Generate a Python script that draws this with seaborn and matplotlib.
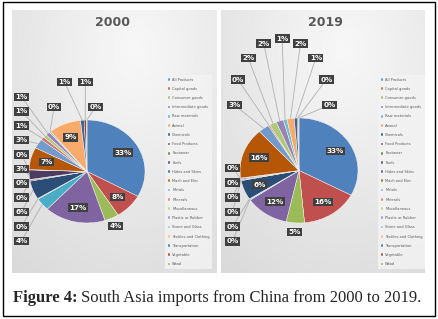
import numpy as np
import matplotlib
matplotlib.use('agg')
import seaborn as sns
import matplotlib.pyplot as plt
from matplotlib.patches import Rectangle

categories = ["All Products", "Capital goods", "Consumer goods", "Intermediate goods",
              "Raw materials", "Animal", "Chemicals", "Food Products", "Footwear",
              "Fuels", "Hides and Skins", "Mach and Elec", "Metals", "Minerals",
              "Miscellaneous", "Plastic or Rubber", "Stone and Glass",
              "Textiles and Clothing", "Transportation", "Vegetable", "Wood"]

# shares in percent
share_2000 = [33.0, 8.0, 4.0, 17.0, 4.0, 0.2, 5.8, 0.3, 0.2, 3.0, 0.1,
              7.0, 3.0, 1.0, 1.0, 1.2, 0.4, 9.0, 1.0, 0.6, 0.2]
share_2019 = [32.8, 15.7, 5.0, 12.0, 0.3, 0.1, 6.0, 0.2, 0.2, 0.3, 0.1,
              15.6, 3.0, 0.4, 2.0, 2.0, 1.0, 2.0, 0.8, 0.3, 0.2]

years = ["2000", "2019"]

office = ["#4F81BD", "#C0504D", "#9BBB59", "#8064A2", "#4BACC6", "#F79646",
          "#2C4D75", "#772C2A", "#5F7530", "#4D3B62", "#276A7C", "#B65708",
          "#729ACA", "#CD7371", "#AFC97A", "#9983B5", "#6FBDD1", "#F9AB6B",
          "#3A679C", "#9F3B38", "#7E9C40"]

W, H = 439, 319


def label_layout(values):
    """excel-ish 'best fit' placement, in pie-radius units"""
    vals = np.array(values, dtype=float)
    pct = vals / vals.sum() * 100
    start = np.concatenate([[0], np.cumsum(pct)[:-1]])
    theta = np.deg2rad(90 - (start + pct / 2) * 3.6)
    out = [None] * len(vals)
    top, left = [], []
    for i, t in enumerate(theta):
        c, s = np.cos(t), np.sin(t)
        th = np.rad2deg(t) % 360
        if pct[i] >= 6:
            out[i] = (0.72 * c, 0.72 * s, None)
        elif pct[i] >= 3 and c > -0.3 and s < 0.5:
            out[i] = (1.17 * c, 1.17 * s, None)
        elif 20 <= th < 130:
            top.append((th, i))
        elif 130 <= th <= 270:
            left.append((th, i))
        else:
            out[i] = (1.3 * c, 1.3 * s, (c, s))

    # arch of labels above the pie
    top.sort()
    n = len(top)
    if n:
        xc = np.mean([1.1 * np.cos(theta[i]) for _, i in top])
        a = max(0.36, 0.09 * n)
        b = max(0.35, 0.14 * n)
        phis = np.deg2rad(np.linspace(0, 180, n)) if n > 1 else [np.pi / 2]
        for (th, i), p in zip(top, phis):
            out[i] = (xc + a * np.cos(p), 1.25 + b * np.sin(p),
                      (np.cos(theta[i]), np.sin(theta[i])))

    # column of labels on the left
    left.sort()
    ys = [1.1 * np.sin(theta[i]) for _, i in left]
    gap = 0.28
    for k in range(1, len(ys)):
        ys[k] = min(ys[k], ys[k - 1] - gap)
    if ys and ys[-1] < -1.35:
        ys[-1] = -1.35
        for k in range(len(ys) - 2, -1, -1):
            ys[k] = max(ys[k], ys[k + 1] + gap)
    for (th, i), y in zip(left, ys):
        out[i] = (-1.13, y, (np.cos(theta[i]), np.sin(theta[i])))
    return pct, out


def draw_panel(fig, year, values, box, center, radius, legend_at, title_at):
    x0, y0, x1, y1 = box
    rect = [x0 / W, 1 - y1 / H, (x1 - x0) / W, (y1 - y0) / H]

    bg = fig.add_axes(rect)
    yy, xx = np.mgrid[0:1:200j, 0:1:200j]
    d = np.hypot(xx - 0.6, (yy - 0.15) * 0.9)
    g = 0.97 - 0.12 * d / d.max()
    bg.imshow(g, cmap="gray", vmin=0, vmax=1, extent=(0, 1, 0, 1),
              aspect="auto", origin="upper")
    bg.axis("off")

    ax = fig.add_axes(rect, facecolor="none")
    wedges, _ = ax.pie(values, colors=office, startangle=90, counterclock=False,
                       wedgeprops=dict(linewidth=0.3, edgecolor="white"))
    cx, cy = center
    rx, ry = radius
    ax.set_aspect("auto")
    ax.set_xlim((x0 - cx) / rx, (x1 - cx) / rx)
    ax.set_ylim(-(y1 - cy) / ry, (cy - y0) / ry)
    ax.axis("off")

    pct, layout = label_layout(values)
    for p, (x, y, anchor) in zip(pct, layout):
        if anchor is not None:
            ax.plot([x, anchor[0]], [y, anchor[1]], color="#AFAFAF", lw=0.6,
                    zorder=3, solid_capstyle="butt")
        ax.text(x, y, "{:.0f}%".format(p), ha="center", va="center",
                fontsize=5.2, color="white", weight="bold", zorder=5,
                bbox=dict(boxstyle="square,pad=0.18", fc="#404040", ec="none"))

    fig.text(title_at[0] / W, 1 - title_at[1] / H, year, ha="center",
             va="center", fontsize=9, weight="bold", color="#595959")

    ax.legend(wedges, categories, loc="upper left",
              bbox_to_anchor=(legend_at[0] / W, 1 - legend_at[1] / H),
              bbox_transform=fig.transFigure, fontsize=2.6,
              labelcolor="#595959", frameon=True, fancybox=False,
              facecolor="#F3F3F3", edgecolor="none", framealpha=0.85,
              handlelength=0.8, handleheight=0.8, handletextpad=0.5,
              labelspacing=1.45, borderpad=0.7, borderaxespad=0)
    return ax


def main(output):
    sns.set_theme(style="white")
    plt.rcParams["font.family"] = ["DejaVu Sans"]

    fig = plt.figure(figsize=(W / 100, H / 100), dpi=100)
    fig.patch.set_facecolor("white")

    draw_panel(fig, years[0], share_2000, (12, 10, 217, 273), (87, 171.5),
               (58, 51.5), (165, 75), (113, 23))
    draw_panel(fig, years[1], share_2019, (221, 10, 425, 273), (299, 170.5),
               (59, 52.5), (378, 75), (325, 22))

    fig.patches.append(Rectangle((3 / W, 1 - 316 / H), 432 / W, 314 / H,
                                 transform=fig.transFigure, fill=False,
                                 ec="black", lw=1.0))

    cap = fig.text(13 / W, 1 - 298 / H, "Figure 4:", fontsize=12,
                   family="Liberation Serif", weight="bold", va="center")
    r = fig.canvas.get_renderer()
    bb = cap.get_window_extent(renderer=r)
    fig.text(bb.x1 / W + 3 / W, 1 - 298 / H,
             "South Asia imports from China from 2000 to 2019.", fontsize=12,
             family="Liberation Serif", va="center")

    fig.savefig(output, dpi=100)


if __name__ == "__main__":
    main("out.png")
